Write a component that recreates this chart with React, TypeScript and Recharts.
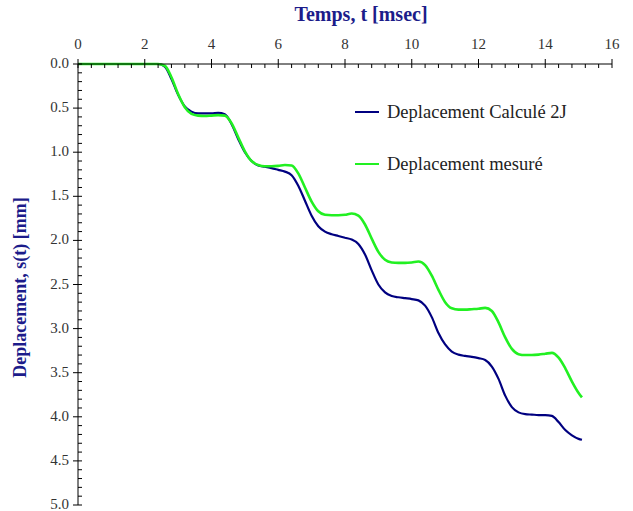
import React from "react";
import { LineChart, Line, XAxis, YAxis, Legend, Label } from "recharts";

const tValues = [
  0, 2.4, 2.6, 2.8, 3.0, 3.2, 3.4, 3.6, 3.8, 4.0, 4.2, 4.4, 4.6, 4.8, 5.0, 5.2, 5.4, 5.6, 5.8, 6.0,
  6.2, 6.4, 6.6, 6.8, 7.0, 7.2, 7.4, 7.6, 7.8, 8.0, 8.2, 8.4, 8.6, 8.8, 9.0, 9.2, 9.4, 9.6, 9.8,
  10.0, 10.2, 10.4, 10.6, 10.8, 11.0, 11.2, 11.4, 11.6, 11.8, 12.0, 12.2, 12.4, 12.6, 12.8, 13.0,
  13.2, 13.4, 13.6, 13.8, 14.0, 14.2, 14.4, 14.6, 14.8, 15.0, 15.1,
];

const calcValues = [
  0, 0, 0.03, 0.17, 0.35, 0.48, 0.54, 0.56, 0.56, 0.56, 0.555, 0.57, 0.68, 0.85, 1.0, 1.1, 1.15,
  1.165, 1.18, 1.2, 1.22, 1.26, 1.38, 1.55, 1.72, 1.84, 1.9, 1.93, 1.95, 1.97, 1.99, 2.04, 2.16,
  2.34, 2.5, 2.59, 2.63, 2.645, 2.655, 2.665, 2.68, 2.74, 2.87, 3.05, 3.18, 3.26, 3.295, 3.31,
  3.32, 3.335, 3.355, 3.43, 3.57, 3.76, 3.89, 3.95, 3.97, 3.975, 3.98, 3.98, 3.99, 4.06, 4.15,
  4.21, 4.25, 4.26,
];

const measValues = [
  0, 0, 0.02, 0.15, 0.34, 0.49, 0.565, 0.585, 0.59, 0.585, 0.58, 0.585, 0.67, 0.83, 0.99, 1.1,
  1.145, 1.16, 1.16, 1.155, 1.145, 1.15, 1.24, 1.4, 1.56, 1.67, 1.71, 1.715, 1.715, 1.71, 1.695,
  1.72, 1.82, 1.98, 2.13, 2.22, 2.25, 2.255, 2.255, 2.25, 2.24, 2.28, 2.4, 2.56, 2.7, 2.77, 2.785,
  2.785, 2.78, 2.775, 2.765, 2.8, 2.93, 3.1, 3.23, 3.29, 3.3, 3.3, 3.295, 3.285, 3.275, 3.33,
  3.45, 3.6, 3.73, 3.78,
];

const xMajorTicks = [0, 2, 4, 6, 8, 10, 12, 14, 16];
const yMajorTicks = [0, 0.5, 1.0, 1.5, 2.0, 2.5, 3.0, 3.5, 4.0, 4.5, 5.0];

const seriesNames = ["Deplacement Calculé 2J", "Deplacement mesuré"];
const seriesColors = ["#000080", "#22f022"];

const xTitle = "Temps, t [msec]";
const yTitle = "Deplacement, s(t) [mm]";

const data = tValues.map((t, i) => ({ t, calc: calcValues[i], meas: measValues[i] }));

// minor ticks: 4 between x majors, 4 between y majors
const xTicks: number[] = [];
for (let i = 0; i < xMajorTicks.length - 1; i++) {
  const a = xMajorTicks[i];
  const b = xMajorTicks[i + 1];
  for (let k = 0; k < 5; k++) xTicks.push(+(a + ((b - a) * k) / 5).toFixed(4));
}
xTicks.push(xMajorTicks[xMajorTicks.length - 1]);
const yTicks: number[] = [];
for (let i = 0; i < yMajorTicks.length - 1; i++) {
  const a = yMajorTicks[i];
  const b = yMajorTicks[i + 1];
  for (let k = 0; k < 5; k++) yTicks.push(+(a + ((b - a) * k) / 5).toFixed(4));
}
yTicks.push(yMajorTicks[yMajorTicks.length - 1]);

const FONT = "'Liberation Serif', 'Times New Roman', serif";
const TITLE_COLOR = "#1c1c8a";
const TEXT_COLOR = "#333";

const isMajor = (v: number, majors: number[]) => majors.some((m) => Math.abs(m - v) < 1e-6);

const XTick = (props: any) => {
  const { x, y, payload } = props;
  const major = isMajor(payload.value, xMajorTicks);
  return (
    <g>
      <line x1={x} x2={x} y1={major ? y - 5 : y} y2={y + 4} stroke="#000" strokeWidth={1} />
      {major && (
        <text x={x} y={y - 15} textAnchor="middle" fontFamily={FONT} fontSize={15} fill={TEXT_COLOR}>
          {payload.value}
        </text>
      )}
    </g>
  );
};

const YTick = (props: any) => {
  const { x, y, payload } = props;
  const major = isMajor(payload.value, yMajorTicks);
  return (
    <g>
      <line x1={major ? x - 5 : x} x2={x + 4} y1={y} y2={y} stroke="#000" strokeWidth={1} />
      {major && (
        <text x={x - 9} y={y + 4} textAnchor="end" fontFamily={FONT} fontSize={15} fill={TEXT_COLOR}>
          {Number(payload.value).toFixed(1)}
        </text>
      )}
    </g>
  );
};

const LegendContent = () => (
  <div style={{ fontFamily: FONT, fontSize: 18.5, color: "#222" }}>
    {seriesNames.map((name, i) => (
      <div key={name} style={{ display: "flex", alignItems: "center", height: 26, marginBottom: 26 }}>
        <svg width={28} height={10} style={{ marginRight: 4 }}>
          <line x1={0} x2={24} y1={5} y2={5} stroke={seriesColors[i]} strokeWidth={2} />
        </svg>
        <span>{name}</span>
      </div>
    ))}
  </div>
);

export default function App() {
  return (
    <div style={{ position: "absolute", left: 0, top: 0 }}>
      <LineChart width={633} height={511} data={data} margin={{ top: 0, right: 21, bottom: 6, left: 0 }}>
        <XAxis
          dataKey="t"
          type="number"
          orientation="top"
          domain={[0, 16]}
          ticks={xTicks}
          interval={0}
          height={64}
          tickSize={0}
          tickMargin={0}
          tickLine={false}
          axisLine={{ stroke: "#000", strokeWidth: 1 }}
          tick={<XTick />}
        >
          <Label
            content={(p: any) => {
              const vb = p.viewBox;
              return (
                <text
                  x={vb.x + vb.width / 2 + 16}
                  y={21}
                  textAnchor="middle"
                  fontFamily={FONT}
                  fontSize={20}
                  fontWeight="bold"
                  fill={TITLE_COLOR}
                >
                  {xTitle}
                </text>
              );
            }}
          />
        </XAxis>
        <YAxis
          type="number"
          domain={[0, 5]}
          reversed
          ticks={yTicks}
          interval={0}
          width={78}
          tickSize={0}
          tickMargin={0}
          tickLine={false}
          axisLine={{ stroke: "#000", strokeWidth: 1 }}
          tick={<YTick />}
        >
          <Label
            content={(p: any) => {
              const vb = p.viewBox;
              const cx = vb.x + 26;
              const cy = vb.y + vb.height / 2 + 3;
              return (
                <text
                  x={cx}
                  y={cy}
                  transform={`rotate(-90 ${cx} ${cy})`}
                  textAnchor="middle"
                  fontFamily={FONT}
                  fontSize={18}
                  fontWeight="bold"
                  fill={TITLE_COLOR}
                >
                  {yTitle}
                </text>
              );
            }}
          />
        </YAxis>
        <Legend
          layout="vertical"
          align="center"
          verticalAlign="middle"
          content={<LegendContent />}
          wrapperStyle={{ position: "absolute", left: 355, top: 99, width: 270 }}
        />
        <Line
          type="monotone"
          dataKey="calc"
          name={seriesNames[0]}
          stroke={seriesColors[0]}
          strokeWidth={2.2}
          dot={false}
          isAnimationActive={false}
        />
        <Line
          type="monotone"
          dataKey="meas"
          name={seriesNames[1]}
          stroke={seriesColors[1]}
          strokeWidth={2.6}
          dot={false}
          isAnimationActive={false}
        />
      </LineChart>
    </div>
  );
}
